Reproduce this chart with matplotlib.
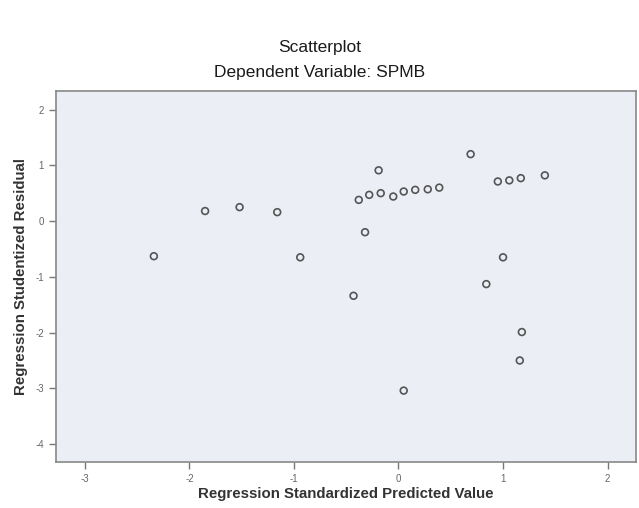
import matplotlib.pyplot as plt

# values
predicted = [-2.34, -1.85, -1.52, -1.16, -0.94, -0.43, -0.38, -0.32, -0.28, -0.19,
             -0.17, -0.05, 0.05, 0.05, 0.16, 0.28, 0.39, 0.69, 0.84, 0.95,
             1.00, 1.06, 1.17, 1.18, 1.16, 1.40]
residual = [-0.63, 0.18, 0.25, 0.16, -0.65, -1.34, 0.38, -0.20, 0.47, 0.91,
            0.50, 0.44, 0.53, -3.04, 0.56, 0.57, 0.60, 1.20, -1.13, 0.71,
            -0.65, 0.73, 0.77, -1.99, -2.50, 0.82]
x_ticks = [-3, -2, -1, 0, 1, 2]
y_ticks = [-4, -3, -2, -1, 0, 1, 2]

plt.rcParams['font.family'] = ['Liberation Sans', 'DejaVu Sans']
plt.rcParams['axes.unicode_minus'] = False

fig = plt.figure(figsize=(6.39, 5.08), dpi=100)
ax = fig.add_axes([0.087, 0.0906, 0.908, 0.730])
ax.set_facecolor('#eceef6')

ax.scatter(predicted, residual, s=24, facecolors='none', edgecolors='#555555', linewidths=1.2, zorder=3)

ax.set_xlim(-3.28, 2.27)
ax.set_ylim(-4.32, 2.33)
ax.set_xticks(x_ticks)
ax.set_yticks(y_ticks)
ax.tick_params(direction='out', length=5, width=1, color='#777777', labelcolor='#666666', labelsize=7)

for side in ax.spines.values():
    side.set_color('#888888')
    side.set_linewidth(1.2)

ax.set_xlabel('Regression Standardized Predicted Value', fontsize=10.8, fontweight='bold', color='#333333', labelpad=2)
ax.set_ylabel('Regression Studentized Residual', fontsize=10.8, fontweight='bold', color='#333333', labelpad=5)

fig.text(0.5, 0.898, 'Scatterplot', ha='center', fontsize=12.5, color='#1a1a1a')
fig.text(0.5, 0.848, 'Dependent Variable: SPMB', ha='center', fontsize=12.5, color='#1a1a1a')

plt.savefig('out.png', dpi=100)
plt.close()
